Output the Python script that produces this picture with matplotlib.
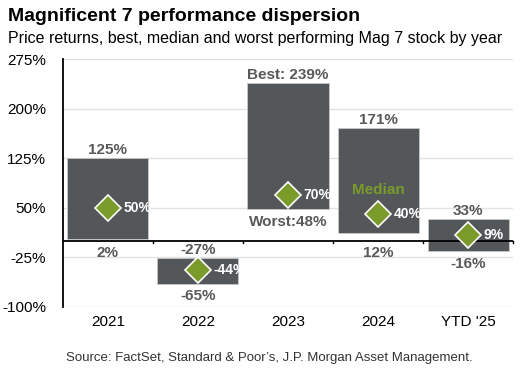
import matplotlib

matplotlib.use("Agg")

import matplotlib.pyplot as plt  # noqa: E402

plt.rcParams["font.family"] = ["Liberation Sans", "DejaVu Sans"]

years = ["2021", "2022", "2023", "2024", "YTD '25"]
best = [125, -27, 239, 171, 33]
median = [50, -44, 70, 40, 9]
worst = [2, -65, 48, 12, -16]
top_labels = ["125%", "-27%", "Best: 239%", "171%", "33%"]
bottom_labels = ["2%", "-65%", "Worst:48%", "12%", "-16%"]
yticks = [-100, -25, 50, 125, 200, 275]

_BAR = "#54575a"
_GREEN = "#7a9a2a"
_LABEL = "#595959"

fig = plt.figure(figsize=(5.28, 3.79), dpi=100)
ax = fig.add_axes([0.119, 0.191, 0.853, 0.6525])

x = list(range(len(years)))
heights = [b - w for b, w in zip(best, worst)]
ax.bar(x, heights, bottom=worst, width=0.9, color=_BAR,
       edgecolor="#c8c8c8", linewidth=0.6, zorder=2)
ax.plot(x, median, linestyle="none", marker="D", markersize=13,
        markerfacecolor=_GREEN, markeredgecolor="white",
        markeredgewidth=1.2, zorder=4)

for i in x:
    ax.annotate(top_labels[i], (i, best[i]), xytext=(0, 6),
                textcoords="offset points", ha="center", va="center",
                fontsize=11, fontweight="bold", color=_LABEL, zorder=5)
    # labels near zero sit under the axis line
    low = worst[i] if worst[i] > 20 else min(worst[i], 0)
    ax.annotate(bottom_labels[i], (i, low), xytext=(0, -9),
                textcoords="offset points", ha="center", va="center",
                fontsize=11, fontweight="bold", color=_LABEL, zorder=5)
    ax.text(i + 0.17, median[i], f"{median[i]}%", ha="left", va="center",
            fontsize=10, fontweight="bold", color="white", zorder=5)

ax.text(3, 77, "Median", ha="center", va="center", fontsize=11,
        fontweight="bold", color=_GREEN, zorder=5)

ax.set_xlim(-0.5, len(years) - 0.5)
ax.set_ylim(-100, 275)
ax.set_yticks(yticks)
ax.set_yticklabels([f"{t}%" for t in yticks], fontsize=11)
ax.yaxis.grid(True, color="#e2e2e2", linewidth=1, zorder=0)
ax.set_axisbelow(True)
ax.tick_params(axis="y", length=0, pad=12)

ax.set_xticks([])
for i in x:
    ax.text(i, -113, years[i], ha="center", va="top", fontsize=11,
            clip_on=False)

ax.axhline(0, color="black", linewidth=1.3, zorder=3)
for b in [0.5, 1.5, 2.5, 3.5, 4.5]:
    ax.plot([b, b], [0, -4], color="black", linewidth=1, zorder=3,
            clip_on=False)

for s in ["top", "right", "bottom"]:
    ax.spines[s].set_visible(False)
ax.spines["left"].set_color("black")
ax.spines["left"].set_linewidth(1.3)

fig.text(0.015, 0.978, "Magnificent 7 performance dispersion", ha="left",
         va="top", fontsize=14, fontweight="bold")
fig.text(0.015, 0.918, "Price returns, best, median and worst performing Mag 7 stock by year",
         ha="left", va="top", fontsize=11.5)
fig.text(0.51, 0.055, "Source: FactSet, Standard & Poor\u2019s, J.P. Morgan Asset Management.",
         ha="center", va="center", fontsize=9.5, color="#333333")

fig.savefig("out.png", dpi=100)
